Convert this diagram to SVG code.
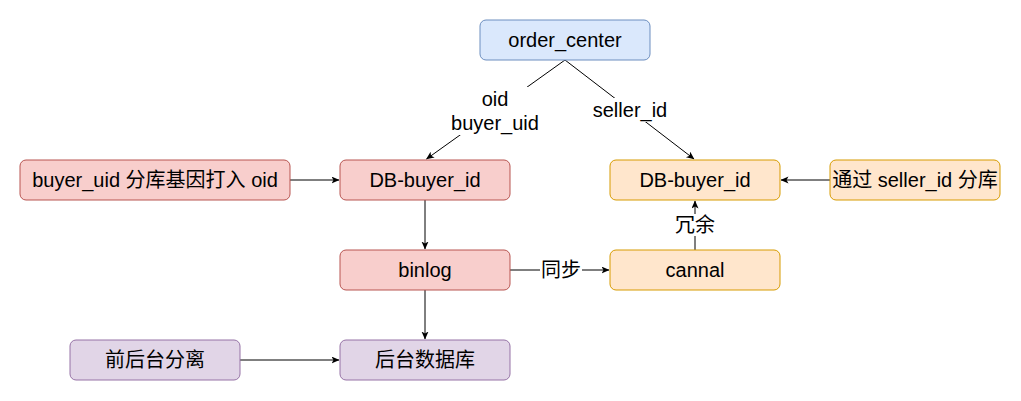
<svg xmlns="http://www.w3.org/2000/svg" width="1021" height="401" viewBox="0 0 1021 401">
<style>
text{font-family:"Liberation Sans","Noto Sans CJK SC",sans-serif;font-size:20px;fill:#000;text-anchor:middle;dominant-baseline:central}
.blue{fill:#dae8fc;stroke:#6c8ebf}
.red{fill:#f8cecc;stroke:#b85450}
.org{fill:#ffe6cc;stroke:#d79b00}
.pur{fill:#e1d5e7;stroke:#9673a6}
.e{stroke:#000;stroke-width:1;fill:none;marker-end:url(#arr)}
.lbl{fill:#fff}
</style>
<defs>
<marker id="arr" markerWidth="10" markerHeight="10" refX="7.5" refY="3.5" orient="auto" markerUnits="userSpaceOnUse">
<path d="M0,0 L8,3.5 L0,7 L2,3.5 Z" fill="#000"/>
</marker>
</defs>
<g id="edges">
<path class="e" d="M565,60 L426.5,159"/>
<path class="e" d="M565,60 L694,159"/>
<path class="e" d="M290,180 L339,180"/>
<path class="e" d="M830,180 L781,180"/>
<path class="e" d="M425,200 L425,249"/>
<path class="e" d="M510,270 L609,270"/>
<path class="e" d="M695,250 L695,201"/>
<path class="e" d="M425,290 L425,339"/>
<path class="e" d="M240,360 L339,360"/>
<rect class="lbl" x="448" y="87" width="94" height="48"/>
<text x="495" y="99">oid</text>
<text x="495" y="123">buyer_uid</text>
<rect class="lbl" x="588" y="98" width="84" height="24"/>
<text x="630" y="110">seller_id</text>
<rect class="lbl" x="540" y="259" width="42" height="22"/>
<text x="561" y="270">同步</text>
<rect class="lbl" x="674" y="214" width="42" height="22"/>
<text x="695" y="225">冗余</text>
</g>
<g id="order_center"><rect class="blue" x="480" y="20" width="170" height="40" rx="6"/><text x="565" y="40">order_center</text></g>
<g id="buyer_uid_rule"><rect class="red" x="20" y="160" width="270" height="40" rx="6"/><text x="155" y="180">buyer_uid 分库基因打入 oid</text></g>
<g id="db_buyer_left"><rect class="red" x="340" y="160" width="170" height="40" rx="6"/><text x="425" y="180">DB-buyer_id</text></g>
<g id="db_buyer_right"><rect class="org" x="610" y="160" width="170" height="40" rx="6"/><text x="695" y="180">DB-buyer_id</text></g>
<g id="seller_rule"><rect class="org" x="830" y="160" width="170" height="40" rx="6"/><text x="915" y="180">通过 seller_id 分库</text></g>
<g id="binlog"><rect class="red" x="340" y="250" width="170" height="40" rx="6"/><text x="425" y="270">binlog</text></g>
<g id="cannal"><rect class="org" x="610" y="250" width="170" height="40" rx="6"/><text x="695" y="270">cannal</text></g>
<g id="separation"><rect class="pur" x="70" y="340" width="170" height="40" rx="6"/><text x="155" y="360">前后台分离</text></g>
<g id="backend_db"><rect class="pur" x="340" y="340" width="170" height="40" rx="6"/><text x="425" y="360">后台数据库</text></g>
</svg>
